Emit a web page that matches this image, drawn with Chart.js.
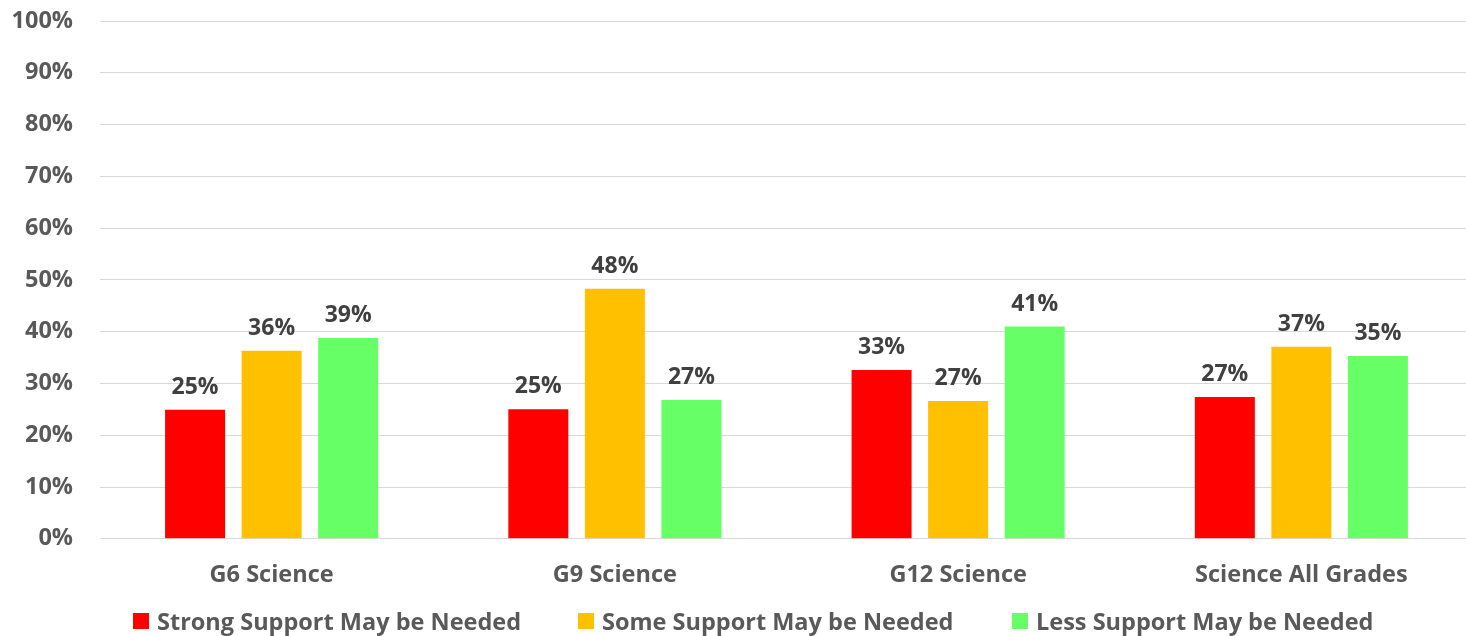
<!DOCTYPE html>
<html>
<head>
<meta charset="utf-8">
<script src="https://cdn.jsdelivr.net/npm/chart.js@4.4.1/dist/chart.umd.min.js"></script>
<style>
  html, body { margin:0; padding:0; background:#fff; overflow:hidden; }
  .wrap { position:relative; width:1473px; height:627px; }
  .legend { margin:0; padding:0; list-style:none;
    font-family:"Open Sans", sans-serif; font-weight:700; font-size:23.5px; color:#595959; }
  .legend li { position:absolute; top:605px; display:flex; align-items:center; white-space:nowrap; }
  .legend .swatch { width:16px; height:16px; margin-right:8px; display:inline-block; }
</style>
</head>
<body>
<div class="wrap"><canvas id="chart"></canvas></div>
<ul class="legend" id="legend"></ul>
<script>
// ===== Data =====
const CATEGORIES = ['G6 Science', 'G9 Science', 'G12 Science', 'Science All Grades'];
const SERIES = ['Strong Support May be Needed', 'Some Support May be Needed', 'Less Support May be Needed'];
const STRONG = [24.9, 25.0, 32.6, 27.4];
const SOME   = [36.3, 48.3, 26.6, 37.1];
const LESS   = [38.8, 26.8, 41.0, 35.3];
const COLORS = ['#ff0000', '#ffc000', '#66ff66'];
const Y_TICKS = [0, 10, 20, 30, 40, 50, 60, 70, 80, 90, 100];

const FONT = '"Open Sans", sans-serif';

// value labels above bars
const barLabels = {
  id:'barLabels',
  afterDatasetsDraw(chart){
    const ctx = chart.ctx;
    ctx.save();
    ctx.font = `700 23px ${FONT}`;
    ctx.fillStyle = '#404040';
    ctx.textAlign = 'center';
    ctx.textBaseline = 'alphabetic';
    chart.data.datasets.forEach((ds, i) => {
      chart.getDatasetMeta(i).data.forEach((bar, j) => {
        ctx.fillText(Math.round(ds.data[j]) + '%', bar.x, bar.y - 16);
      });
    });
    ctx.restore();
  }
};

const chart = new Chart(document.getElementById('chart'), {
  type:'bar',
  data:{
    labels:CATEGORIES,
    datasets:[STRONG, SOME, LESS].map((d, i) => ({
      label:SERIES[i], data:d, backgroundColor:COLORS[i],
      categoryPercentage:.669, barPercentage:.784
    }))
  },
  options:{
    responsive:true, maintainAspectRatio:false, animation:false,
    layout:{ padding:{ top:21, right:0, bottom:24, left:0 } },
    plugins:{ legend:{display:false}, tooltip:{enabled:false} },
    scales:{
      x:{
        grid:{ display:false },
        border:{ color:'#d9d9d9' },
        ticks:{ color:'#595959', font:{family:FONT, size:23.5, weight:'700'}, padding:14 }
      },
      y:{
        min:0, max:100,
        afterBuildTicks:(s) => { s.ticks = Y_TICKS.map(v => ({value:v})); },
        afterFit:(s) => { s.width = 100; s.paddingTop = 0; s.paddingBottom = 0; },
        grid:{ color:'#d9d9d9', drawTicks:false },
        border:{ display:false },
        ticks:{ color:'#595959', font:{family:FONT, size:23.5, weight:'700'}, padding:27,
          callback:(v) => v + '%' }
      }
    }
  },
  plugins:[barLabels]
});

// legend (positions from the reference)
const LEGEND_X = [133, 578, 1012];
document.getElementById('legend').innerHTML = SERIES.map((s, i) => `
  <li style="left:${LEGEND_X[i]}px"><span class="swatch" style="background:${COLORS[i]}"></span><span>${s}</span></li>
`).join('');
</script>
</body>
</html>
